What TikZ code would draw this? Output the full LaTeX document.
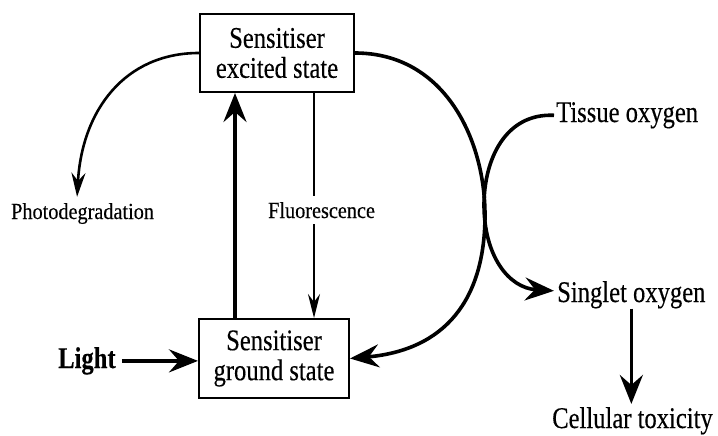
\documentclass[tikz,border=0pt]{standalone}
\usepackage{fontspec}
\setmainfont[FakeStretch=0.82,FakeBold=0.3]{Liberation Serif}
\newfontfamily\labelfont[FakeStretch=0.88,FakeBold=0.3]{Liberation Serif}
\usetikzlibrary{arrows.meta}
\begin{document}
\begin{tikzpicture}[x=1pt,y=-1pt,
  big/.style={font=\fontsize{30}{30}\selectfont},
  state/.style={big, draw, line width=2pt, inner sep=0pt, align=center},
  term/.style={big, inner sep=0pt, anchor=base west},
  side/.style={font=\labelfont\fontsize{23}{23}\selectfont, inner sep=0pt, anchor=base west},
  heavy/.style={line width=3.6pt},
  medium/.style={line width=2.6pt},
  thin/.style={line width=1.3pt},
  bigtip/.style={-{Stealth[length=29pt,width=23pt,inset=10pt]}},
  midtip/.style={-{Stealth[length=24pt,width=14pt,inset=8pt]}},
  smalltip/.style={-{Stealth[length=24pt,width=12pt,inset=8pt]}}
]
\useasboundingbox (0,0) rectangle (718,436);

% the two sensitiser states
\node[state, minimum width=154pt, minimum height=78pt] (exc) at (277,53) {Sensitiser\\excited state};
\node[state, minimum width=150pt, minimum height=79pt] (gnd) at (274,358.5) {Sensitiser\\ground state};

% free labels
\node[term, font=\fontsize{30}{30}\selectfont\bfseries] (light) at (58,368) {Light};
\node[side] (photo) at (11,219) {Photodegradation};
\node[term] (tissue) at (556,122) {Tissue oxygen};
\node[term] (singlet) at (557,302) {Singlet oxygen};
\node[term] (cell) at (552,428) {Cellular toxicity};

% light absorption
\draw[heavy, bigtip] ([xshift=6pt]light.east) -- (light.east -| gnd.west);

% excitation and fluorescence
\draw[heavy, bigtip] ([xshift=-39pt]gnd.north) -- ([xshift=-39pt]gnd.north |- exc.south);
\draw[thin, smalltip] ([xshift=37pt]exc.south) -- ([xshift=37pt]exc.south |- gnd.north);
\node[side, fill=white, inner xsep=1pt, inner ysep=6pt] (fluo) at (267,218) {Fluorescence};

% photodegradation
\draw[medium, midtip] (exc.west) .. controls (125,53) and (82,110) .. ([xshift=-5.5pt,yshift=6pt]photo.north);

% energy transfer to oxygen
\draw[heavy, bigtip] (exc.east) .. controls (445,53) and (485,140) .. (485,215)
  .. controls (485,300) and (445,350) .. (gnd.east);
\draw[heavy, bigtip] ([xshift=-2pt]tissue.west) .. controls (505,113) and (484,160) .. (484,205)
  .. controls (484,255) and (508,288) .. ([xshift=-3pt,yshift=4pt]singlet.west);

% toxicity
\draw[heavy, bigtip, shorten >=3pt] (singlet.south) -- (singlet.south |- cell.north);
\end{tikzpicture}
\end{document}
